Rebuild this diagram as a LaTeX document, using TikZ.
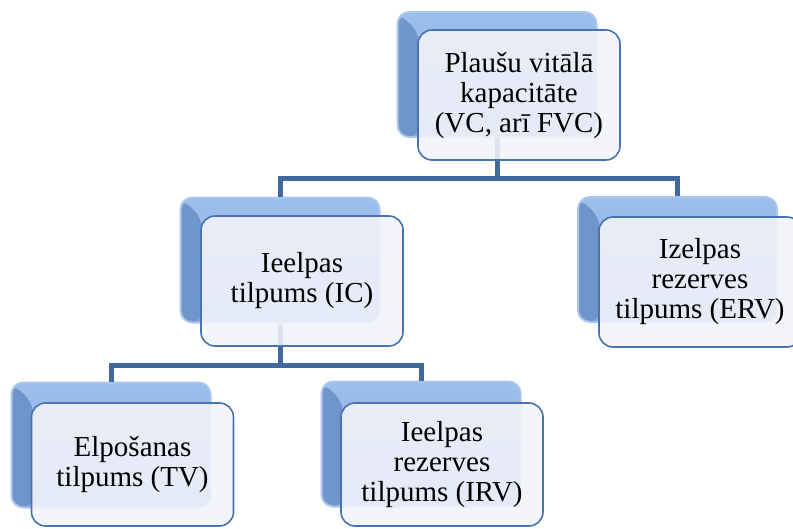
\documentclass[tikz,border=0pt]{standalone}
\usepackage{fontspec}
\setmainfont{Liberation Serif}
\newfontfamily\cardfont{Liberation Serif}
\definecolor{bevellight}{HTML}{9DBFEC}
\definecolor{bevelmid}{HTML}{82A9DF}
\definecolor{beveldark}{HTML}{7095CB}
\definecolor{softedge}{HTML}{AAC6EC}
\definecolor{paper}{HTML}{F3F4FA}
\definecolor{frameblue}{HTML}{4873AE}
\definecolor{linkblue}{HTML}{41699D}
\tikzset{
  backbox/.style={rounded corners=12pt, minimum width=199pt, minimum height=125pt,
    top color=bevellight, bottom color=bevelmid, draw=softedge, line width=2pt,
    path picture={\fill[beveldark] (path picture bounding box.north west) -- ++(22,21)
      -- ([xshift=22pt]path picture bounding box.south west)
      -- (path picture bounding box.south west) -- cycle;}},
  textbox/.style={rounded corners=14pt, minimum width=202pt, minimum height=130pt,
    fill=paper, fill opacity=0.88, text opacity=1, draw=frameblue, line width=1.6pt,
    align=center, inner sep=2pt, text=black, font=\cardfont\fontsize{29}{30}\selectfont},
  lowbox/.style={textbox, minimum height=123pt},
  link/.style={draw=linkblue, line width=5pt}
}
\begin{document}
\begin{tikzpicture}[x=1pt, y=-1pt]
\useasboundingbox (0,0) rectangle (793,528);

% coloured back plates
\node[backbox] (vc)  at (497,74.5) {};
\node[backbox] (ic)  at (280,260) {};
\node[backbox] (erv) at (677.5,259.5) {};
\node[backbox] (tv)  at (111,445) {};
\node[backbox] (irv) at (421,444) {};

% tree connectors
\draw[link] (vc.south) -- ++(0,40) -| (ic.north);
\draw[link] (vc.south) -- ++(0,40) -| (erv.north);
\draw[link] (ic.south) -- ++(0,42) -| (tv.north);
\draw[link] (ic.south) -- ++(0,42) -| (irv.north);

% text cards
\node[textbox] (vc-t)  at (519,95)    {Plaušu vitālā\\kapacitāte\\(VC, arī FVC)};
\node[textbox] (ic-t)  at (302,281)   {Ieelpas\\tilpums (IC)};
\node[textbox] (erv-t) at (700,282)   {Izelpas\\rezerves\\tilpums (ERV)};
\node[lowbox]  (tv-t)  at (132.5,464.5) {Elpošanas\\tilpums (TV)};
\node[lowbox]  (irv-t) at (442,464.5) {Ieelpas\\rezerves\\tilpums (IRV)};
\end{tikzpicture}
\end{document}
